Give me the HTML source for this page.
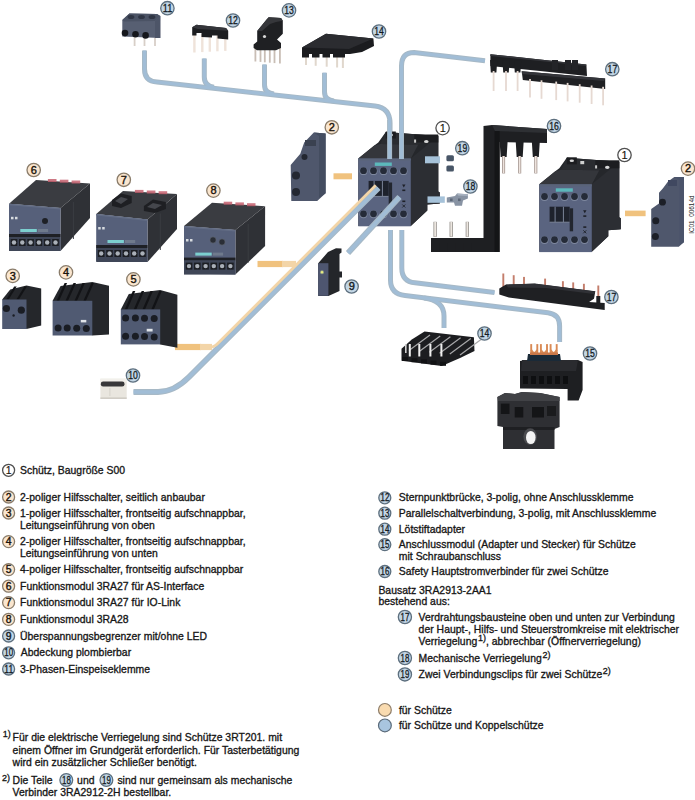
<!DOCTYPE html>
<html><head><meta charset="utf-8"><style>
html,body{margin:0;padding:0;background:#fff;}
body{width:695px;height:800px;overflow:hidden;position:relative;font-family:"Liberation Sans",sans-serif;}
svg{position:absolute;left:0;top:0;font-family:"Liberation Sans",sans-serif;}
</style></head><body>
<svg width="695" height="800" viewBox="0 0 695 800">
<path d="M144.5 50.5 V69 Q144.5 81.5 157 82 L375 106 Q390 108 390 123 V158" fill="none" stroke="#a7b9c6" stroke-width="5" stroke-linejoin="round"/><path d="M204.3 58.5 V77 Q204.3 86 214 87.2" fill="none" stroke="#a7b9c6" stroke-width="5" stroke-linejoin="round"/><path d="M264.5 64.5 V85 Q264.5 93 274 94" fill="none" stroke="#a7b9c6" stroke-width="5" stroke-linejoin="round"/><path d="M324.5 72.8 V92 Q324.5 100 334 101" fill="none" stroke="#a7b9c6" stroke-width="5" stroke-linejoin="round"/><path d="M144.5 50.5 V69 Q144.5 81.5 157 82 L375 106 Q390 108 390 123 V158" fill="none" stroke="#a1bdd6" stroke-width="3.10" stroke-linejoin="round"/><path d="M204.3 58.5 V77 Q204.3 86 214 87.2" fill="none" stroke="#a1bdd6" stroke-width="3.10" stroke-linejoin="round"/><path d="M264.5 64.5 V85 Q264.5 93 274 94" fill="none" stroke="#a1bdd6" stroke-width="3.10" stroke-linejoin="round"/><path d="M324.5 72.8 V92 Q324.5 100 334 101" fill="none" stroke="#a1bdd6" stroke-width="3.10" stroke-linejoin="round"/>
<path d="M401.5 158 V66 Q401.5 52.5 414 52.5 L485 60.8" fill="none" stroke="#a7b9c6" stroke-width="5" stroke-linejoin="round"/><path d="M401.5 158 V66 Q401.5 52.5 414 52.5 L485 60.8" fill="none" stroke="#a1bdd6" stroke-width="3.10" stroke-linejoin="round"/>
<path d="M390.5 230 V280 Q390.5 294 405 295.5 L548 312.8 Q559.6 314.3 559.6 326 V342" fill="none" stroke="#a7b9c6" stroke-width="5" stroke-linejoin="round"/><path d="M424 298 Q444 300.5 444 316 V328" fill="none" stroke="#a7b9c6" stroke-width="5" stroke-linejoin="round"/><path d="M390.5 230 V280 Q390.5 294 405 295.5 L548 312.8 Q559.6 314.3 559.6 326 V342" fill="none" stroke="#a1bdd6" stroke-width="3.10" stroke-linejoin="round"/><path d="M424 298 Q444 300.5 444 316 V328" fill="none" stroke="#a1bdd6" stroke-width="3.10" stroke-linejoin="round"/>
<path d="M401.8 230 V268 Q401.8 281.5 415 282.8 L494.5 292.5" fill="none" stroke="#a7b9c6" stroke-width="5" stroke-linejoin="round"/><path d="M401.8 230 V268 Q401.8 281.5 415 282.8 L494.5 292.5" fill="none" stroke="#a1bdd6" stroke-width="3.10" stroke-linejoin="round"/>
<path d="M175 347 H201" stroke="#f0c27e" stroke-width="6.2"/>
<path d="M200 347 H212" stroke="#f3d5a8" stroke-width="6.2"/>
<path d="M257.5 264 H283" stroke="#f0c27e" stroke-width="6.2"/>
<path d="M282 264 H296" stroke="#f3d5a8" stroke-width="6.2"/>
<rect x="333.5" y="173.3" width="18.5" height="6" fill="#f0c27e"/>
<rect x="625" y="210.6" width="20.6" height="5.6" fill="#f0c27e"/>
<rect x="133.7" y="36" width="1.8" height="10" fill="#d8cfc8"/>
<rect x="143.6" y="36" width="1.8" height="10" fill="#d8cfc8"/>
<rect x="154.1" y="36" width="1.8" height="10" fill="#d8cfc8"/>
<polygon points="122.3,20 129.4,13.6 157,14 160.3,16 160.3,38.1 122.3,36.5" fill="#575f72"/>
<polygon points="122.3,20 129.4,13.6 157,14 160.3,16 155,21 124,21.5" fill="#4b5365"/>
<polygon points="155,21 160.3,16 160.3,38.1 155,38" fill="#4d5568"/>
<ellipse cx="131" cy="17" rx="3.4" ry="2" fill="#2f3544"/>
<ellipse cx="141.5" cy="17" rx="3.4" ry="2" fill="#2f3544"/>
<ellipse cx="152" cy="17" rx="3.4" ry="2" fill="#2f3544"/>
<circle cx="125" cy="33.1" r="3.3" fill="#15171c"/>
<circle cx="135.5" cy="34.3" r="3.3" fill="#15171c"/>
<circle cx="145.6" cy="35.4" r="3.3" fill="#15171c"/>
<rect x="193.20000000000002" y="34" width="2.4" height="18.5" fill="#efe3da"/>
<rect x="201.10000000000002" y="34" width="2.4" height="18.1" fill="#efe3da"/>
<rect x="208.60000000000002" y="34" width="2.4" height="17.7" fill="#efe3da"/>
<rect x="216.20000000000002" y="34" width="2.4" height="17.3" fill="#efe3da"/>
<rect x="224.10000000000002" y="34" width="2.4" height="16.9" fill="#efe3da"/>
<polygon points="192.2,27.2 196.5,24.7 226,27.9 228.2,30.8 228.2,39.4 217.5,38.5 217.5,35.5 212,35.5 212,37.6 201.5,37 201.5,33 196.5,33 196.5,35.5 192.2,35.5" fill="#1c1d20"/>
<polygon points="192.2,27.2 196.5,24.7 226,27.9 228.2,30.8 198,29" fill="#34353a"/>
<rect x="254.5" y="48" width="1.8" height="13.5" fill="#c9beb5"/>
<rect x="259.6" y="48" width="1.8" height="13.9" fill="#c9beb5"/>
<rect x="263.90000000000003" y="48" width="1.8" height="14.3" fill="#c9beb5"/>
<rect x="268.90000000000003" y="48" width="1.8" height="14.7" fill="#c9beb5"/>
<rect x="273.6" y="48" width="1.8" height="15.1" fill="#c9beb5"/>
<rect x="279.0" y="48" width="1.8" height="15.5" fill="#c9beb5"/>
<polygon points="253.6,44.5 257.2,41.5 257.2,30.9 266.6,19.4 268.7,17.2 281,17.9 282.8,20.8 282.8,33.7 277,39.5 281,43 281,48 276,50.3 257,50.3 253.6,48" fill="#1f2023"/>
<polygon points="257.2,30.9 266.6,19.4 268.7,17.2 281,17.9 282.8,20.8 276,22 270,24 262,31" fill="#36373b"/>
<circle cx="264.5" cy="36.5" r="1.6" fill="#d8d8d8"/>
<rect x="305" y="54" width="2" height="11.0" fill="#e0d7cd"/>
<rect x="314.7" y="54" width="2" height="11.8" fill="#e0d7cd"/>
<rect x="325.7" y="54" width="2" height="12.7" fill="#e0d7cd"/>
<rect x="336.1" y="54" width="2" height="13.5" fill="#e0d7cd"/>
<rect x="341.9" y="54" width="2" height="14.0" fill="#e0d7cd"/>
<polygon points="302,47.5 326,33.8 373.4,38.6 374,46 362,52 350,54 302,54" fill="#1b1c1f"/>
<polygon points="302,47.5 326,33.8 373.4,38.6 349,49" fill="#2b2c30"/>
<rect x="302" y="53" width="7" height="4.5" fill="#1b1c1f"/>
<rect x="312" y="53" width="7.5" height="4.5" fill="#1b1c1f"/>
<rect x="322.5" y="53" width="7.5" height="4.5" fill="#1b1c1f"/>
<rect x="333" y="53" width="12" height="4.5" fill="#1b1c1f"/>
<polygon points="490.4,54.2 540,59.5 586.4,64.6 587,76 540,71 490.4,66" fill="#1e1f22"/>
<polygon points="490.4,54.2 540,59.5 586.4,64.6 586,66 540,61 490.4,56" fill="#34353a"/>
<polygon points="490.0,60 497.20000000000005,61 496.40000000000003,72.5 490.8,72.5" fill="#1e1f22"/>
<polygon points="502.4,60 509.6,61 508.8,72.5 503.2,72.5" fill="#1e1f22"/>
<polygon points="514.0,60 521.2,61 520.4,72.5 514.8000000000001,72.5" fill="#1e1f22"/>
<rect x="552" y="60" width="6" height="10" fill="#232428"/>
<rect x="565" y="60" width="6" height="10" fill="#232428"/>
<rect x="572" y="60" width="6" height="10" fill="#232428"/>
<polygon points="521.7,71.3 605.2,78.6 605.2,89 522.8,80" fill="#1f2023"/>
<polygon points="521.7,71.3 605.2,78.6 604,81 522,74" fill="#34353a"/>
<rect x="492.70000000000005" y="71" width="1.8" height="20" fill="#e6d9d2"/>
<rect x="505.1" y="71" width="1.8" height="20" fill="#e6d9d2"/>
<rect x="516.7" y="71" width="1.8" height="20" fill="#e6d9d2"/>
<rect x="529.1" y="79.0" width="1.8" height="18.5" fill="#e6d9d2"/>
<rect x="540.6" y="80.3" width="1.8" height="18.5" fill="#e6d9d2"/>
<rect x="555.3000000000001" y="81.6" width="1.8" height="18.5" fill="#e6d9d2"/>
<rect x="566.7" y="82.9" width="1.8" height="18.5" fill="#e6d9d2"/>
<rect x="578.8000000000001" y="84.2" width="1.8" height="18.5" fill="#e6d9d2"/>
<rect x="590.7" y="85.5" width="1.8" height="18.5" fill="#e6d9d2"/>
<rect x="602.2" y="86.8" width="1.8" height="18.5" fill="#e6d9d2"/>
<polygon points="290.7,165 300.3,153.8 304.2,142.5 313.8,132.4 325.6,133.5 325.6,193.2 317.2,201 291.3,201" fill="#4f576c"/>
<polygon points="313.8,132.4 325.6,133.5 325.6,193.2 319,198 319,136" fill="#444d60"/>
<circle cx="296" cy="175.5" r="4" fill="#232731"/><circle cx="296" cy="192" r="4" fill="#232731"/><circle cx="304.5" cy="157" r="3" fill="#232731"/>
<rect x="305" y="140" width="11" height="6" fill="#3a4150"/>
<g transform="translate(358.3,158.5)"><polygon points="0,0 16,-13 20,-16 27.5,-26.5 80,-22.5 80,33 81.5,34 81.5,45 69,46 69,52 52.5,67.5 0,67.5" fill="#25272b"/><polygon points="52.5,0 80,-22.5 80,33 81.5,34 81.5,45 69,46 69,52 52.5,67.5" fill="#2c2e33"/><polygon points="0,0 16,-13 22,-14.5 60,-14 52.5,0" fill="#34363b"/><polygon points="27.5,-26.5 80,-22.5 60,-14 22,-14.5" fill="#2a2c30"/><rect x="27.5" y="-27" width="10" height="7" fill="#1c1d20"/><rect x="56" y="-24" width="24" height="8" fill="#1c1d20"/><ellipse cx="32.5" cy="-23.5" rx="2.2" ry="1.2" fill="#d8d8d8"/><rect x="41" y="-23.3" width="3.9" height="3.2" fill="#d0d0d0"/><rect x="55.8" y="-19" width="2" height="3.2" fill="#c8c8c8"/><ellipse cx="68" cy="-17" rx="2.3" ry="1.6" fill="#d8d8d8"/><rect x="0" y="0" width="52.5" height="67.8" fill="#5a6480"/><rect x="0" y="0" width="52.5" height="2" fill="#5a6479"/><rect x="16.5" y="4" width="17" height="3.4" fill="#5cb8bb"/><circle cx="5.2" cy="12.7" r="3.9" fill="#7e889e"/><circle cx="5.2" cy="12.2" r="3.4" fill="#252b38"/><circle cx="5.2" cy="55.8" r="3.9" fill="#7e889e"/><circle cx="5.2" cy="55.3" r="3.4" fill="#252b38"/><circle cx="15.2" cy="12.7" r="3.9" fill="#7e889e"/><circle cx="15.2" cy="12.2" r="3.4" fill="#252b38"/><circle cx="15.2" cy="55.8" r="3.9" fill="#7e889e"/><circle cx="15.2" cy="55.3" r="3.4" fill="#252b38"/><circle cx="25.2" cy="12.7" r="3.9" fill="#7e889e"/><circle cx="25.2" cy="12.2" r="3.4" fill="#252b38"/><circle cx="25.2" cy="55.8" r="3.9" fill="#7e889e"/><circle cx="25.2" cy="55.3" r="3.4" fill="#252b38"/><circle cx="35.2" cy="12.7" r="3.9" fill="#7e889e"/><circle cx="35.2" cy="12.2" r="3.4" fill="#252b38"/><circle cx="35.2" cy="55.8" r="3.9" fill="#7e889e"/><circle cx="35.2" cy="55.3" r="3.4" fill="#252b38"/><circle cx="45.2" cy="12.7" r="3.9" fill="#7e889e"/><circle cx="45.2" cy="12.2" r="3.4" fill="#252b38"/><circle cx="45.2" cy="55.8" r="3.9" fill="#7e889e"/><circle cx="45.2" cy="55.3" r="3.4" fill="#252b38"/><rect x="10.3" y="22.4" width="20.1" height="15.5" fill="#1e222c"/><rect x="15.3" y="22.4" width="1" height="15.5" fill="#7a8498"/><rect x="23.6" y="22.4" width="1" height="15.5" fill="#7a8498"/><rect x="10.3" y="37.4" width="20.1" height="1" fill="#7a8498"/><rect x="30.4" y="24" width="3.4" height="23" fill="#22262f"/><polygon points="43.8,26 47.2,26 45.5,29" fill="#1e2129"/><rect x="44" y="31" width="3" height="1.6" fill="#1e2129"/><rect x="44" y="42" width="3" height="1.6" fill="#1e2129"/><path d="M44 46 l3 3 m-3 0 l3 -3" stroke="#1e2129" stroke-width="0.9"/></g>
<g transform="translate(539.3,184.3)"><polygon points="0,0 16,-13 20,-16 27.5,-26.5 80,-22.5 80,33 81.5,34 81.5,45 69,46 69,52 52.5,67.5 0,67.5" fill="#25272b"/><polygon points="52.5,0 80,-22.5 80,33 81.5,34 81.5,45 69,46 69,52 52.5,67.5" fill="#2c2e33"/><polygon points="0,0 16,-13 22,-14.5 60,-14 52.5,0" fill="#34363b"/><polygon points="27.5,-26.5 80,-22.5 60,-14 22,-14.5" fill="#2a2c30"/><rect x="27.5" y="-27" width="10" height="7" fill="#1c1d20"/><rect x="56" y="-24" width="24" height="8" fill="#1c1d20"/><ellipse cx="32.5" cy="-23.5" rx="2.2" ry="1.2" fill="#d8d8d8"/><rect x="41" y="-23.3" width="3.9" height="3.2" fill="#d0d0d0"/><rect x="55.8" y="-19" width="2" height="3.2" fill="#c8c8c8"/><ellipse cx="68" cy="-17" rx="2.3" ry="1.6" fill="#d8d8d8"/><rect x="0" y="0" width="52.5" height="67.8" fill="#5a6480"/><rect x="0" y="0" width="52.5" height="2" fill="#5a6479"/><rect x="16.5" y="4" width="17" height="3.4" fill="#5cb8bb"/><circle cx="5.2" cy="12.7" r="3.9" fill="#7e889e"/><circle cx="5.2" cy="12.2" r="3.4" fill="#252b38"/><circle cx="5.2" cy="55.8" r="3.9" fill="#7e889e"/><circle cx="5.2" cy="55.3" r="3.4" fill="#252b38"/><circle cx="15.2" cy="12.7" r="3.9" fill="#7e889e"/><circle cx="15.2" cy="12.2" r="3.4" fill="#252b38"/><circle cx="15.2" cy="55.8" r="3.9" fill="#7e889e"/><circle cx="15.2" cy="55.3" r="3.4" fill="#252b38"/><circle cx="25.2" cy="12.7" r="3.9" fill="#7e889e"/><circle cx="25.2" cy="12.2" r="3.4" fill="#252b38"/><circle cx="25.2" cy="55.8" r="3.9" fill="#7e889e"/><circle cx="25.2" cy="55.3" r="3.4" fill="#252b38"/><circle cx="35.2" cy="12.7" r="3.9" fill="#7e889e"/><circle cx="35.2" cy="12.2" r="3.4" fill="#252b38"/><circle cx="35.2" cy="55.8" r="3.9" fill="#7e889e"/><circle cx="35.2" cy="55.3" r="3.4" fill="#252b38"/><circle cx="45.2" cy="12.7" r="3.9" fill="#7e889e"/><circle cx="45.2" cy="12.2" r="3.4" fill="#252b38"/><circle cx="45.2" cy="55.8" r="3.9" fill="#7e889e"/><circle cx="45.2" cy="55.3" r="3.4" fill="#252b38"/><rect x="10.3" y="22.4" width="20.1" height="15.5" fill="#1e222c"/><rect x="15.3" y="22.4" width="1" height="15.5" fill="#7a8498"/><rect x="23.6" y="22.4" width="1" height="15.5" fill="#7a8498"/><rect x="10.3" y="37.4" width="20.1" height="1" fill="#7a8498"/><rect x="30.4" y="24" width="3.4" height="23" fill="#22262f"/><polygon points="43.8,26 47.2,26 45.5,29" fill="#1e2129"/><rect x="44" y="31" width="3" height="1.6" fill="#1e2129"/><rect x="44" y="42" width="3" height="1.6" fill="#1e2129"/><path d="M44 46 l3 3 m-3 0 l3 -3" stroke="#1e2129" stroke-width="0.9"/></g>
<path d="M389.6 120 V159" fill="none" stroke="#a7b9c6" stroke-width="5" stroke-linejoin="round"/><path d="M389.6 120 V159" fill="none" stroke="#a1bdd6" stroke-width="3.10" stroke-linejoin="round"/>
<path d="M401.5 120 V159" fill="none" stroke="#a7b9c6" stroke-width="5" stroke-linejoin="round"/><path d="M401.5 120 V159" fill="none" stroke="#a1bdd6" stroke-width="3.10" stroke-linejoin="round"/>
<rect x="425" y="156.3" width="15" height="7" fill="#a6c2d9"/>
<rect x="427.5" y="196.4" width="17.3" height="6.4" fill="#a6c2d9"/>
<rect x="446.4" y="155.3" width="7.5" height="6" rx="1.5" fill="#485667"/><rect x="446.4" y="165.4" width="7.5" height="6" rx="1.5" fill="#485667"/>
<polygon points="446.8,197.5 455,196 457,193.5 467.9,194.2 467.9,198.5 463,200.5 462,205.8 455,205.8 454,202.5 446.8,202.5" fill="#8893a3"/>
<polygon points="457,193.5 467.9,194.2 467.9,196 458,195.5" fill="#a8b2c0"/>
<rect x="450" y="198.5" width="2.6" height="2.6" fill="#5d6878"/><rect x="458" y="198.5" width="2.6" height="2.6" fill="#5d6878"/>
<polygon points="483.5,126 492,125 547,129 547,143 499.6,142 499.6,252 431,252 431,238 483.5,238" fill="#1e1f22"/>
<polygon points="492,125 547,129 547,133 495,131" fill="#2e3034"/>
<rect x="494.5" y="131" width="5.1" height="121" fill="#141517"/>
<polygon points="499.6,141 507.6,141 506.6,157 500.6,157" fill="#1e1f22"/>
<rect x="502.1" y="156" width="3" height="17.4" fill="#9a8a84"/>
<rect x="502.8" y="156" width="1.6" height="17" fill="#eee4de"/>
<polygon points="515.7,141 523.7,141 522.7,157 516.7,157" fill="#1e1f22"/>
<rect x="518.2" y="156" width="3" height="17.4" fill="#9a8a84"/>
<rect x="518.9000000000001" y="156" width="1.6" height="17" fill="#eee4de"/>
<polygon points="531.8,141 539.8,141 538.8,157 532.8,157" fill="#1e1f22"/>
<rect x="534.3" y="156" width="3" height="17.4" fill="#9a8a84"/>
<rect x="535.0" y="156" width="1.6" height="17" fill="#eee4de"/>
<rect x="433.5" y="221.8" width="3.2" height="15" fill="#8a8580"/>
<rect x="434.20000000000005" y="222" width="1.8" height="14.5" fill="#ece6e0"/>
<rect x="431.1" y="243" width="8" height="9" fill="#1e1f22"/>
<rect x="449.59999999999997" y="221.8" width="3.2" height="15" fill="#8a8580"/>
<rect x="450.3" y="222" width="1.8" height="14.5" fill="#ece6e0"/>
<rect x="447.2" y="243" width="8" height="9" fill="#1e1f22"/>
<rect x="465.7" y="221.8" width="3.2" height="15" fill="#8a8580"/>
<rect x="466.40000000000003" y="222" width="1.8" height="14.5" fill="#ece6e0"/>
<rect x="463.3" y="243" width="8" height="9" fill="#1e1f22"/>
<polygon points="651.2,209 659,203.4 659,192.7 663,188.2 668,181.4 674.3,176.9 683.9,176.9 683.9,242.2 678.8,246.7 651.2,246.7" fill="#4f576c"/>
<polygon points="674.3,176.9 683.9,176.9 683.9,242.2 679.5,245 679.5,180" fill="#4a536a"/>
<rect x="668" y="180" width="9" height="6" fill="#404860"/>
<circle cx="662.5" cy="202.2" r="3.4" fill="#1c1f27"/><circle cx="655.8" cy="220.8" r="3.5" fill="#1c1f27"/><circle cx="655.4" cy="236.6" r="3.5" fill="#1c1f27"/>
<polygon points="9,203.8 36,180 90,183.5 60.5,208" fill="#3a3c41"/><polygon points="60.5,208 90,183.5 90,218 60.5,251" fill="#2f3136"/><path d="M73.4 202.0 V239.0" stroke="#3a3d42" stroke-width="1"/><rect x="47.9" y="179.0" width="8.6" height="3" fill="#c4606e" opacity="0.85"/><rect x="59.8" y="179.7" width="8.6" height="3" fill="#c4606e" opacity="0.85"/><rect x="71.6" y="180.5" width="8.6" height="3" fill="#c4606e" opacity="0.85"/><polygon points="9,203.8 60.5,208 60.5,251 9,250" fill="#56607a"/><polygon points="9,203.8 60.5,208 60.5,209.5 9,205.3" fill="#626c84"/><rect x="20.3" y="229" width="16.5" height="3" fill="#7ccfcf"/><rect x="37.8" y="229" width="10.3" height="3" fill="#6f7a8c"/><rect x="9" y="234" width="51.5" height="3" fill="#1e2025"/><rect x="9" y="237" width="51.5" height="14" fill="#3f4657"/><rect x="11" y="216.8" width="2.5" height="2.5" fill="#d8dce0"/><rect x="15" y="216.8" width="2.5" height="2.5" fill="#d8dce0"/><rect x="10.7" y="239" width="6.6" height="7" fill="#1c1e23"/><circle cx="14.0" cy="242.5" r="2.2" fill="#aab0b8"/><rect x="19.0" y="239" width="6.6" height="7" fill="#1c1e23"/><circle cx="22.3" cy="242.5" r="2.2" fill="#aab0b8"/><rect x="27.3" y="239" width="6.6" height="7" fill="#1c1e23"/><circle cx="30.6" cy="242.5" r="2.2" fill="#aab0b8"/><rect x="35.6" y="239" width="6.6" height="7" fill="#1c1e23"/><circle cx="38.9" cy="242.5" r="2.2" fill="#aab0b8"/><rect x="43.9" y="239" width="6.6" height="7" fill="#1c1e23"/><circle cx="47.2" cy="242.5" r="2.2" fill="#aab0b8"/><rect x="52.2" y="239" width="6.6" height="7" fill="#1c1e23"/><circle cx="55.5" cy="242.5" r="2.2" fill="#aab0b8"/>
<polygon points="96.2,214 123,191 177,194 147.5,219.5" fill="#3a3c41"/><polygon points="147.5,219.5 177,194 177,229 147.5,262" fill="#2f3136"/><path d="M160.3 213.5 V250.0" stroke="#3a3d42" stroke-width="1"/><rect x="134.9" y="189.9" width="8.6" height="3" fill="#c4606e" opacity="0.85"/><rect x="146.8" y="190.5" width="8.6" height="3" fill="#c4606e" opacity="0.85"/><rect x="158.6" y="191.2" width="8.6" height="3" fill="#c4606e" opacity="0.85"/><polygon points="96.2,214 147.5,219.5 147.5,262 96.2,261" fill="#56607a"/><polygon points="96.2,214 147.5,219.5 147.5,221.0 96.2,215.5" fill="#626c84"/><rect x="107.5" y="240" width="16.4" height="3" fill="#7ccfcf"/><rect x="124.9" y="240" width="10.3" height="3" fill="#6f7a8c"/><rect x="96.2" y="245" width="51.3" height="3" fill="#1e2025"/><rect x="96.2" y="248" width="51.3" height="14" fill="#3f4657"/><rect x="98.2" y="227" width="2.5" height="2.5" fill="#d8dce0"/><rect x="102.2" y="227" width="2.5" height="2.5" fill="#d8dce0"/><rect x="97.9" y="250" width="6.6" height="7" fill="#1c1e23"/><circle cx="101.2" cy="253.5" r="2.2" fill="#aab0b8"/><rect x="106.2" y="250" width="6.6" height="7" fill="#1c1e23"/><circle cx="109.5" cy="253.5" r="2.2" fill="#aab0b8"/><rect x="114.4" y="250" width="6.6" height="7" fill="#1c1e23"/><circle cx="117.7" cy="253.5" r="2.2" fill="#aab0b8"/><rect x="122.7" y="250" width="6.6" height="7" fill="#1c1e23"/><circle cx="126.0" cy="253.5" r="2.2" fill="#aab0b8"/><rect x="130.9" y="250" width="6.6" height="7" fill="#1c1e23"/><circle cx="134.2" cy="253.5" r="2.2" fill="#aab0b8"/><rect x="139.2" y="250" width="6.6" height="7" fill="#1c1e23"/><circle cx="142.5" cy="253.5" r="2.2" fill="#aab0b8"/>
<polygon points="184,226 212,202.7 265.1,206.2 235.4,230" fill="#3a3c41"/><polygon points="235.4,230 265.1,206.2 265.1,246 235.4,274.6" fill="#2f3136"/><path d="M248.2 224.0 V262.6" stroke="#3a3d42" stroke-width="1"/><rect x="223.7" y="201.7" width="8.5" height="3" fill="#c4606e" opacity="0.85"/><rect x="235.4" y="202.4" width="8.5" height="3" fill="#c4606e" opacity="0.85"/><rect x="247.0" y="203.2" width="8.5" height="3" fill="#c4606e" opacity="0.85"/><polygon points="184,226 235.4,230 235.4,274.6 184,273.6" fill="#56607a"/><polygon points="184,226 235.4,230 235.4,231.5 184,227.5" fill="#626c84"/><rect x="195.3" y="252.60000000000002" width="16.4" height="3" fill="#7ccfcf"/><rect x="212.8" y="252.60000000000002" width="10.3" height="3" fill="#6f7a8c"/><rect x="184" y="257.6" width="51.400000000000006" height="3" fill="#1e2025"/><rect x="184" y="260.6" width="51.400000000000006" height="14" fill="#3f4657"/><rect x="186" y="239" width="2.5" height="2.5" fill="#d8dce0"/><rect x="190" y="239" width="2.5" height="2.5" fill="#d8dce0"/><rect x="185.7" y="262.6" width="6.6" height="7" fill="#1c1e23"/><circle cx="189.0" cy="266.1" r="2.2" fill="#aab0b8"/><rect x="194.0" y="262.6" width="6.6" height="7" fill="#1c1e23"/><circle cx="197.3" cy="266.1" r="2.2" fill="#aab0b8"/><rect x="202.3" y="262.6" width="6.6" height="7" fill="#1c1e23"/><circle cx="205.6" cy="266.1" r="2.2" fill="#aab0b8"/><rect x="210.5" y="262.6" width="6.6" height="7" fill="#1c1e23"/><circle cx="213.8" cy="266.1" r="2.2" fill="#aab0b8"/><rect x="218.8" y="262.6" width="6.6" height="7" fill="#1c1e23"/><circle cx="222.1" cy="266.1" r="2.2" fill="#aab0b8"/><rect x="227.1" y="262.6" width="6.6" height="7" fill="#1c1e23"/><circle cx="230.4" cy="266.1" r="2.2" fill="#aab0b8"/>
<polygon points="112,200 121,193.4 131.7,196 131.7,203 121,208 112,206" fill="#1e1f23"/><polygon points="115,201 121,197 128,199 121,204" fill="#45474d"/>
<polygon points="143.9,206 153,199.6 165.9,202 165.9,209 155,213 143.9,211" fill="#1e1f23"/><polygon points="147,207 153,203 162,205 155,209" fill="#45474d"/>
<circle cx="45" cy="221" r="3" fill="#1e2026"/>
<circle cx="213" cy="240" r="3.2" fill="#2a2e36" stroke="#6a7080" stroke-width="0.6"/><circle cx="222" cy="242" r="3.2" fill="#2a2e36" stroke="#6a7080" stroke-width="0.6"/>
<polygon points="2.2,299.5 10.2,289.5 26.5,285.5 41.2,288.6 41.2,325.4 26.5,329.0" fill="#25272b"/><polygon points="6.2,299.5 14.2,286.5 16.7,286.5 8.7,299.5" fill="#121316"/><polygon points="16.4,299.5 24.4,286.5 26.9,286.5 18.9,299.5" fill="#121316"/><rect x="2.2" y="299.5" width="24.3" height="29.5" fill="#505a72"/><circle cx="6.4" cy="308.5" r="3.6" fill="#1a1d24"/><circle cx="21.3" cy="310.2" r="3.6" fill="#1a1d24"/><circle cx="13.6" cy="315.5" r="1.2" fill="#1a1d24"/>
<polygon points="52.6,300.8 60.6,286 92.30000000000001,282 109,285.7 109,334.5 92.30000000000001,335.5" fill="#25272b"/><polygon points="56.6,300.8 64.6,283 67.1,283 59.1,300.8" fill="#121316"/><polygon points="65.5,300.8 73.5,283 76.0,283 68.0,300.8" fill="#121316"/><polygon points="74.5,300.8 82.5,283 85.0,283 77.0,300.8" fill="#121316"/><polygon points="83.4,300.8 91.4,283 93.9,283 85.9,300.8" fill="#121316"/><rect x="52.6" y="300.8" width="39.7" height="34.7" fill="#505a72"/><circle cx="58.1" cy="328" r="3.5" fill="#1a1d24"/><circle cx="67.2" cy="328" r="3.5" fill="#1a1d24"/><circle cx="76.7" cy="328.3" r="3.5" fill="#1a1d24"/><circle cx="86.3" cy="328.5" r="3.5" fill="#1a1d24"/>
<polygon points="120.8,309.4 128.8,294 160.2,290 177.4,294.8 177.4,347.7 160.2,344.4" fill="#25272b"/><polygon points="124.8,309.4 132.8,291 135.3,291 127.3,309.4" fill="#121316"/><polygon points="133.7,309.4 141.7,291 144.2,291 136.2,309.4" fill="#121316"/><polygon points="142.5,309.4 150.5,291 153.0,291 145.0,309.4" fill="#121316"/><polygon points="151.3,309.4 159.3,291 161.8,291 153.8,309.4" fill="#121316"/><rect x="120.8" y="309.4" width="39.4" height="35" fill="#505a72"/><circle cx="125.6" cy="318" r="3.5" fill="#1a1d24"/><circle cx="135.4" cy="318" r="3.5" fill="#1a1d24"/><circle cx="144.5" cy="318.3" r="3.5" fill="#1a1d24"/><circle cx="154.2" cy="318.6" r="3.5" fill="#1a1d24"/><circle cx="125.6" cy="336.3" r="3.5" fill="#1a1d24"/><circle cx="135.4" cy="336.3" r="3.5" fill="#1a1d24"/><circle cx="144.5" cy="336.6" r="3.5" fill="#1a1d24"/><circle cx="154.2" cy="336.9" r="3.5" fill="#1a1d24"/>
<rect x="80.8" y="319.9" width="5.5" height="2.5" fill="#e0e4e8"/><rect x="146.7" y="328.8" width="5.9" height="2.7" fill="#e0e4e8"/>
<polygon points="318.2,263.2 328,252 336,248.2 341.5,248.5 341.5,252.5 339.5,254 339.5,291 328.4,296 318.2,296" fill="#24262a"/>
<rect x="339" y="271.5" width="3" height="6" fill="#24262a"/>
<rect x="318.2" y="263.2" width="10.2" height="32.6" fill="#4e5670"/>
<circle cx="322" cy="272.2" r="2" fill="#c8d890" opacity="0.6"/><circle cx="322" cy="272.2" r="1.1" fill="#eef080"/>
<rect x="100.4" y="378.7" width="26.3" height="20.1" fill="#e9e6df"/>
<rect x="100.4" y="378.7" width="26.3" height="3" fill="#f2f0eb"/>
<rect x="100.8" y="381.5" width="23.7" height="5.1" rx="2.3" fill="#38383a"/>
<rect x="100.4" y="397.5" width="26.3" height="1.3" fill="#c9c5bd"/>
<rect x="109.5" y="388" width="0.8" height="8" fill="#d2cec6"/>
<polygon points="401.5,348.7 411.8,339.5 424.5,331.5 473.9,337.2 474.5,351 460.1,357.9 441.7,366 401.5,360.8" fill="#1c1d20"/>
<path d="M409.0 350.5 L430.0 335.0" stroke="#a8a8aa" stroke-width="1.2"/>
<path d="M419.2 351.4 L440.2 335.9" stroke="#a8a8aa" stroke-width="1.2"/>
<path d="M429.4 352.3 L450.4 336.8" stroke="#a8a8aa" stroke-width="1.2"/>
<path d="M439.6 353.2 L460.6 337.7" stroke="#a8a8aa" stroke-width="1.2"/>
<path d="M449.8 354.1 L470.8 338.6" stroke="#a8a8aa" stroke-width="1.2"/>
<path d="M460.0 355.0 L481.0 339.5" stroke="#a8a8aa" stroke-width="1.2"/>
<rect x="408.8" y="344" width="2" height="12.5" fill="#f0f0f0"/>
<rect x="418.3" y="344" width="2" height="12.5" fill="#f0f0f0"/>
<rect x="429.4" y="344" width="2" height="12.5" fill="#f0f0f0"/>
<rect x="440.4" y="344" width="2" height="12.5" fill="#f0f0f0"/>
<rect x="402.0" y="357.0" width="6" height="4" fill="#111214"/>
<rect x="411.5" y="358.2" width="6" height="4" fill="#111214"/>
<rect x="421.0" y="359.4" width="6" height="4" fill="#111214"/>
<rect x="430.5" y="360.6" width="6" height="4" fill="#111214"/>
<rect x="440.0" y="361.8" width="6" height="4" fill="#111214"/>
<rect x="405" y="344" width="1.6" height="9" fill="#d0d0d0"/>
<rect x="502.35" y="273.5" width="1.9" height="16" fill="#c47e6c"/>
<rect x="512.75" y="275.2" width="1.9" height="16" fill="#c47e6c"/>
<rect x="523.05" y="276.9" width="1.9" height="16" fill="#c47e6c"/>
<rect x="544.15" y="278.6" width="1.9" height="16" fill="#c47e6c"/>
<rect x="561.9499999999999" y="281.2" width="1.9" height="16" fill="#c47e6c"/>
<rect x="572.25" y="282.4" width="1.9" height="16" fill="#c47e6c"/>
<rect x="582.9499999999999" y="283.8" width="1.9" height="16" fill="#c47e6c"/>
<rect x="597.3499999999999" y="285.5" width="1.9" height="16" fill="#c47e6c"/>
<polygon points="499.3,288.5 506,284.5 534.7,283.8 546.8,285.2 595.3,291.3 594,298.7 589.1,302 604.7,302.9 604.7,310 570,305.5 530,300.3 508.8,297.5 499.3,294.5" fill="#1f2023"/>
<polygon points="506,284.7 534.7,283.5 546.8,285 595.3,291.6 594,294 546,288 508,287.5" fill="#303136"/>
<rect x="596.3" y="296" width="4" height="7" fill="#1f2023"/>
<polygon points="520,361 526,360 578,360 582.6,362 582.6,390 578.6,400.4 567.6,400.4 567.6,389 520,388.6" fill="#1e1f22"/>
<polygon points="522,360 578,360 576,371 521,371" fill="#2a2b2f"/>
<rect x="523" y="376" width="5" height="8" fill="#0e0f11"/>
<rect x="531" y="376" width="5" height="8" fill="#0e0f11"/>
<rect x="539" y="376" width="5" height="8" fill="#0e0f11"/>
<rect x="547" y="376" width="5" height="8" fill="#0e0f11"/>
<rect x="555" y="376" width="5" height="8" fill="#0e0f11"/>
<rect x="563" y="376" width="5" height="8" fill="#0e0f11"/>
<polygon points="528,354 560,354 561,361 527,361" fill="#1a2a38"/>
<rect x="530.25" y="344.1" width="1.9" height="9" fill="#d98a55"/>
<rect x="536.3499999999999" y="344.1" width="1.9" height="9" fill="#d98a55"/>
<rect x="539.9499999999999" y="344.1" width="1.9" height="9" fill="#d98a55"/>
<rect x="546.05" y="344.1" width="1.9" height="9" fill="#d98a55"/>
<rect x="549.65" y="344.1" width="1.9" height="9" fill="#d98a55"/>
<rect x="555.75" y="344.1" width="1.9" height="9" fill="#d98a55"/>
<path d="M531.2 350 Q534.25 356 537.3 350" stroke="#d98a55" stroke-width="2" fill="none"/>
<path d="M540.9 350 Q543.95 356 547 350" stroke="#d98a55" stroke-width="2" fill="none"/>
<path d="M550.6 350 Q553.6500000000001 356 556.7 350" stroke="#d98a55" stroke-width="2" fill="none"/>
<rect x="530" y="352.5" width="28" height="2.5" fill="#c8784a"/>
<polygon points="497.4,397 505,393 515,394 522,392 540,393 559.6,397 559.6,427 554.5,429 554.5,449 503,449 503,427 497.4,426" fill="#2e2f33"/>
<polygon points="497.4,397 505,393 515,394 522,392 540,393 559.6,397 559.6,401 498,401" fill="#414246"/>
<rect x="500.8" y="403.6" width="8.7" height="10.4" fill="#141517"/><rect x="514.7" y="407" width="8.6" height="10.5" fill="#141517"/><rect x="532" y="407" width="12" height="10.5" fill="#141517"/><rect x="547" y="406" width="9" height="10" fill="#1a1b1d"/>
<rect x="503" y="427" width="51.5" height="3" fill="#1e1f22"/>
<ellipse cx="530.2" cy="436.6" rx="6.8" ry="8.4" fill="#4a4b4f"/><ellipse cx="530.8" cy="437.5" rx="4.8" ry="6.6" fill="#f4f4f4"/>
<path d="M378.5 188 L189 377 Q174 392 158 392 L133.5 392" fill="none" stroke="#a7b9c6" stroke-width="5.8" stroke-linejoin="round"/><path d="M378.5 188 L189 377 Q174 392 158 392 L133.5 392" fill="none" stroke="#a1bdd6" stroke-width="3.60" stroke-linejoin="round"/>
<path d="M375.8 185.3 L218 343.2 Q214 347.5 208 347.5" fill="none" stroke="#f3d5a8" stroke-width="2.8" stroke-linejoin="round"/>
<path d="M399.5 197 L348 253" fill="none" stroke="#a7b9c6" stroke-width="5.8" stroke-linejoin="round"/><path d="M399.5 197 L348 253" fill="none" stroke="#a1bdd6" stroke-width="3.60" stroke-linejoin="round"/>
<text x="0" y="0" font-size="7.8" textLength="38.3" lengthAdjust="spacingAndGlyphs" fill="#2a2a2a" transform="translate(693.6,233.8) rotate(-90)">IC01_00614d</text>
<circle cx="167.4" cy="8.2" r="6.7" fill="#c3d6e5" stroke="#5d6f7e" stroke-width="1.3"/><text x="167.5" y="11.9" font-size="10.8" text-anchor="middle" textLength="9.6" lengthAdjust="spacingAndGlyphs" fill="#141a22" stroke="#141a22" stroke-width="0.3">11</text>
<circle cx="233.0" cy="20.5" r="6.7" fill="#c3d6e5" stroke="#5d6f7e" stroke-width="1.3"/><text x="233.1" y="24.2" font-size="10.8" text-anchor="middle" textLength="9.6" lengthAdjust="spacingAndGlyphs" fill="#141a22" stroke="#141a22" stroke-width="0.3">12</text>
<circle cx="289.0" cy="10.4" r="6.7" fill="#c3d6e5" stroke="#5d6f7e" stroke-width="1.3"/><text x="289.1" y="14.1" font-size="10.8" text-anchor="middle" textLength="9.6" lengthAdjust="spacingAndGlyphs" fill="#141a22" stroke="#141a22" stroke-width="0.3">13</text>
<circle cx="379.0" cy="31.5" r="6.7" fill="#c3d6e5" stroke="#5d6f7e" stroke-width="1.3"/><text x="379.1" y="35.2" font-size="10.8" text-anchor="middle" textLength="9.6" lengthAdjust="spacingAndGlyphs" fill="#141a22" stroke="#141a22" stroke-width="0.3">14</text>
<circle cx="612.3" cy="69.2" r="6.7" fill="#c3d6e5" stroke="#5d6f7e" stroke-width="1.3"/><text x="612.4" y="72.9" font-size="10.8" text-anchor="middle" textLength="9.6" lengthAdjust="spacingAndGlyphs" fill="#141a22" stroke="#141a22" stroke-width="0.3">17</text>
<circle cx="331.8" cy="127.3" r="6.7" fill="#fae6cf" stroke="#8a7c6a" stroke-width="1.3"/><text x="331.9" y="131.2" font-size="11.0" text-anchor="middle" fill="#1a140c" stroke="#1a140c" stroke-width="0.4">2</text>
<circle cx="442.6" cy="128.1" r="6.7" fill="#ffffff" stroke="#505050" stroke-width="1.3"/><text x="442.7" y="131.9" font-size="11.0" text-anchor="middle" fill="#1a140c" stroke="#1a140c" stroke-width="0.15">1</text>
<circle cx="462.3" cy="148.2" r="6.7" fill="#c3d6e5" stroke="#5d6f7e" stroke-width="1.3"/><text x="462.4" y="151.9" font-size="10.8" text-anchor="middle" textLength="9.6" lengthAdjust="spacingAndGlyphs" fill="#141a22" stroke="#141a22" stroke-width="0.3">19</text>
<circle cx="470.4" cy="186.5" r="6.7" fill="#c3d6e5" stroke="#5d6f7e" stroke-width="1.3"/><text x="470.5" y="190.2" font-size="10.8" text-anchor="middle" textLength="9.6" lengthAdjust="spacingAndGlyphs" fill="#141a22" stroke="#141a22" stroke-width="0.3">18</text>
<circle cx="554.0" cy="126.0" r="6.7" fill="#c3d6e5" stroke="#5d6f7e" stroke-width="1.3"/><text x="554.1" y="129.7" font-size="10.8" text-anchor="middle" textLength="9.6" lengthAdjust="spacingAndGlyphs" fill="#141a22" stroke="#141a22" stroke-width="0.3">16</text>
<circle cx="624.5" cy="155.0" r="6.7" fill="#ffffff" stroke="#505050" stroke-width="1.3"/><text x="624.6" y="158.8" font-size="11.0" text-anchor="middle" fill="#1a140c" stroke="#1a140c" stroke-width="0.15">1</text>
<circle cx="688.0" cy="168.6" r="6.7" fill="#fae6cf" stroke="#8a7c6a" stroke-width="1.3"/><text x="688.1" y="172.4" font-size="11.0" text-anchor="middle" fill="#1a140c" stroke="#1a140c" stroke-width="0.4">2</text>
<circle cx="33.7" cy="170.0" r="6.7" fill="#fae6cf" stroke="#8a7c6a" stroke-width="1.3"/><text x="33.8" y="173.8" font-size="11.0" text-anchor="middle" fill="#1a140c" stroke="#1a140c" stroke-width="0.4">6</text>
<circle cx="123.8" cy="179.8" r="6.7" fill="#fae6cf" stroke="#8a7c6a" stroke-width="1.3"/><text x="123.9" y="183.7" font-size="11.0" text-anchor="middle" fill="#1a140c" stroke="#1a140c" stroke-width="0.4">7</text>
<circle cx="213.4" cy="190.6" r="6.7" fill="#fae6cf" stroke="#8a7c6a" stroke-width="1.3"/><text x="213.5" y="194.4" font-size="11.0" text-anchor="middle" fill="#1a140c" stroke="#1a140c" stroke-width="0.4">8</text>
<circle cx="12.7" cy="275.9" r="6.7" fill="#fae6cf" stroke="#8a7c6a" stroke-width="1.3"/><text x="12.8" y="279.8" font-size="11.0" text-anchor="middle" fill="#1a140c" stroke="#1a140c" stroke-width="0.4">3</text>
<circle cx="66.0" cy="272.4" r="6.7" fill="#fae6cf" stroke="#8a7c6a" stroke-width="1.3"/><text x="66.1" y="276.2" font-size="11.0" text-anchor="middle" fill="#1a140c" stroke="#1a140c" stroke-width="0.4">4</text>
<circle cx="133.4" cy="279.4" r="6.7" fill="#fae6cf" stroke="#8a7c6a" stroke-width="1.3"/><text x="133.5" y="283.2" font-size="11.0" text-anchor="middle" fill="#1a140c" stroke="#1a140c" stroke-width="0.4">5</text>
<circle cx="351.6" cy="286.5" r="6.7" fill="#c3d6e5" stroke="#5d6f7e" stroke-width="1.3"/><text x="351.7" y="290.4" font-size="11.0" text-anchor="middle" fill="#141a22" stroke="#141a22" stroke-width="0.4">9</text>
<circle cx="133.0" cy="375.5" r="6.7" fill="#c3d6e5" stroke="#5d6f7e" stroke-width="1.3"/><text x="133.1" y="379.2" font-size="10.8" text-anchor="middle" textLength="9.6" lengthAdjust="spacingAndGlyphs" fill="#141a22" stroke="#141a22" stroke-width="0.3">10</text>
<circle cx="611.4" cy="297.0" r="6.7" fill="#c3d6e5" stroke="#5d6f7e" stroke-width="1.3"/><text x="611.5" y="300.7" font-size="10.8" text-anchor="middle" textLength="9.6" lengthAdjust="spacingAndGlyphs" fill="#141a22" stroke="#141a22" stroke-width="0.3">17</text>
<circle cx="484.5" cy="333.5" r="6.7" fill="#c3d6e5" stroke="#5d6f7e" stroke-width="1.3"/><text x="484.6" y="337.2" font-size="10.8" text-anchor="middle" textLength="9.6" lengthAdjust="spacingAndGlyphs" fill="#141a22" stroke="#141a22" stroke-width="0.3">14</text>
<circle cx="590.0" cy="353.5" r="6.7" fill="#c3d6e5" stroke="#5d6f7e" stroke-width="1.3"/><text x="590.1" y="357.2" font-size="10.8" text-anchor="middle" textLength="9.6" lengthAdjust="spacingAndGlyphs" fill="#141a22" stroke="#141a22" stroke-width="0.3">15</text>
<circle cx="8.6" cy="470.3" r="6.0" fill="#ffffff" stroke="#505050" stroke-width="1.3"/><text x="8.7" y="473.9" font-size="10.4" text-anchor="middle" fill="#1a140c" stroke="#1a140c" stroke-width="0.15">1</text>
<text x="20" y="473.8" font-size="10.4" letter-spacing="0.03" fill="#161616" stroke="#161616" stroke-width="0.32" >Schütz, Baugröße S00</text>
<circle cx="8.6" cy="497.0" r="6.0" fill="#fae6cf" stroke="#8a7c6a" stroke-width="1.3"/><text x="8.7" y="500.6" font-size="10.4" text-anchor="middle" fill="#1a140c" stroke="#1a140c" stroke-width="0.4">2</text>
<text x="20" y="500.5" font-size="10.4" letter-spacing="0.03" fill="#161616" stroke="#161616" stroke-width="0.32" >2-poliger Hilfsschalter, seitlich anbaubar</text>
<circle cx="8.6" cy="513.0" r="6.0" fill="#fae6cf" stroke="#8a7c6a" stroke-width="1.3"/><text x="8.7" y="516.6" font-size="10.4" text-anchor="middle" fill="#1a140c" stroke="#1a140c" stroke-width="0.4">3</text>
<text x="20" y="516.5" font-size="10.4" letter-spacing="0.03" fill="#161616" stroke="#161616" stroke-width="0.32" >1-poliger Hilfsschalter, frontseitig aufschnappbar,</text>
<text x="20" y="528.6" font-size="10.4" letter-spacing="0.03" fill="#161616" stroke="#161616" stroke-width="0.32" >Leitungseinführung von oben</text>
<circle cx="8.6" cy="541.6" r="6.0" fill="#fae6cf" stroke="#8a7c6a" stroke-width="1.3"/><text x="8.7" y="545.2" font-size="10.4" text-anchor="middle" fill="#1a140c" stroke="#1a140c" stroke-width="0.4">4</text>
<text x="20" y="545.1" font-size="10.4" letter-spacing="0.03" fill="#161616" stroke="#161616" stroke-width="0.32" >2-poliger Hilfsschalter, frontseitig aufschnappbar,</text>
<text x="20" y="557.2" font-size="10.4" letter-spacing="0.03" fill="#161616" stroke="#161616" stroke-width="0.32" >Leitungseinführung von unten</text>
<circle cx="8.6" cy="569.6" r="6.0" fill="#fae6cf" stroke="#8a7c6a" stroke-width="1.3"/><text x="8.7" y="573.2" font-size="10.4" text-anchor="middle" fill="#1a140c" stroke="#1a140c" stroke-width="0.4">5</text>
<text x="20" y="573.1" font-size="10.4" letter-spacing="0.03" fill="#161616" stroke="#161616" stroke-width="0.32" >4-poliger Hilfsschalter, frontseitig aufschnappbar</text>
<circle cx="8.6" cy="586.2" r="6.0" fill="#fae6cf" stroke="#8a7c6a" stroke-width="1.3"/><text x="8.7" y="589.8" font-size="10.4" text-anchor="middle" fill="#1a140c" stroke="#1a140c" stroke-width="0.4">6</text>
<text x="20" y="589.7" font-size="10.4" letter-spacing="0.03" fill="#161616" stroke="#161616" stroke-width="0.32" >Funktionsmodul 3RA27 für AS-Interface</text>
<circle cx="8.6" cy="602.6" r="6.0" fill="#fae6cf" stroke="#8a7c6a" stroke-width="1.3"/><text x="8.7" y="606.2" font-size="10.4" text-anchor="middle" fill="#1a140c" stroke="#1a140c" stroke-width="0.4">7</text>
<text x="20" y="606.1" font-size="10.4" letter-spacing="0.03" fill="#161616" stroke="#161616" stroke-width="0.32" >Funktionsmodul 3RA27 für IO-Link</text>
<circle cx="8.6" cy="619.4" r="6.0" fill="#fae6cf" stroke="#8a7c6a" stroke-width="1.3"/><text x="8.7" y="623.0" font-size="10.4" text-anchor="middle" fill="#1a140c" stroke="#1a140c" stroke-width="0.4">8</text>
<text x="20" y="622.9" font-size="10.4" letter-spacing="0.03" fill="#161616" stroke="#161616" stroke-width="0.32" >Funktionsmodul 3RA28</text>
<circle cx="8.6" cy="636.0" r="6.0" fill="#c3d6e5" stroke="#5d6f7e" stroke-width="1.3"/><text x="8.7" y="639.6" font-size="10.4" text-anchor="middle" fill="#141a22" stroke="#141a22" stroke-width="0.4">9</text>
<text x="20" y="639.5" font-size="10.4" letter-spacing="0.03" fill="#161616" stroke="#161616" stroke-width="0.32" >Überspannungsbegrenzer mit/ohne LED</text>
<circle cx="8.6" cy="652.8" r="6.0" fill="#c3d6e5" stroke="#5d6f7e" stroke-width="1.3"/><text x="8.7" y="656.3" font-size="10.2" text-anchor="middle" textLength="8.8" lengthAdjust="spacingAndGlyphs" fill="#141a22" stroke="#141a22" stroke-width="0.3">10</text>
<text x="20.8" y="656.3" font-size="10.4" letter-spacing="0.03" fill="#161616" stroke="#161616" stroke-width="0.32" >Abdeckung plombierbar</text>
<circle cx="8.6" cy="669.0" r="6.0" fill="#c3d6e5" stroke="#5d6f7e" stroke-width="1.3"/><text x="8.7" y="672.5" font-size="10.2" text-anchor="middle" textLength="8.8" lengthAdjust="spacingAndGlyphs" fill="#141a22" stroke="#141a22" stroke-width="0.3">11</text>
<text x="20" y="672.5" font-size="10.4" letter-spacing="0.03" fill="#161616" stroke="#161616" stroke-width="0.32" >3-Phasen-Einspeiseklemme</text>
<circle cx="384.8" cy="497.8" r="6.0" fill="#c3d6e5" stroke="#5d6f7e" stroke-width="1.3"/><text x="384.9" y="501.3" font-size="10.2" text-anchor="middle" textLength="8.8" lengthAdjust="spacingAndGlyphs" fill="#141a22" stroke="#141a22" stroke-width="0.3">12</text>
<text x="398.8" y="501.3" font-size="10.4" letter-spacing="0.03" fill="#161616" stroke="#161616" stroke-width="0.32" >Sternpunktbrücke, 3-polig, ohne Anschlussklemme</text>
<circle cx="384.8" cy="513.2" r="6.0" fill="#c3d6e5" stroke="#5d6f7e" stroke-width="1.3"/><text x="384.9" y="516.7" font-size="10.2" text-anchor="middle" textLength="8.8" lengthAdjust="spacingAndGlyphs" fill="#141a22" stroke="#141a22" stroke-width="0.3">13</text>
<text x="398.8" y="516.7" font-size="10.4" letter-spacing="0.03" fill="#161616" stroke="#161616" stroke-width="0.32" >Parallelschaltverbindung, 3-polig, mit Anschlussklemme</text>
<circle cx="384.8" cy="529.2" r="6.0" fill="#c3d6e5" stroke="#5d6f7e" stroke-width="1.3"/><text x="384.9" y="532.7" font-size="10.2" text-anchor="middle" textLength="8.8" lengthAdjust="spacingAndGlyphs" fill="#141a22" stroke="#141a22" stroke-width="0.3">14</text>
<text x="398.8" y="532.7" font-size="10.4" letter-spacing="0.03" fill="#161616" stroke="#161616" stroke-width="0.32" >Lötstiftadapter</text>
<circle cx="384.8" cy="544.6" r="6.0" fill="#c3d6e5" stroke="#5d6f7e" stroke-width="1.3"/><text x="384.9" y="548.1" font-size="10.2" text-anchor="middle" textLength="8.8" lengthAdjust="spacingAndGlyphs" fill="#141a22" stroke="#141a22" stroke-width="0.3">15</text>
<text x="398.8" y="548.1" font-size="10.4" letter-spacing="0.03" fill="#161616" stroke="#161616" stroke-width="0.32" >Anschlussmodul (Adapter und Stecker) für Schütze</text>
<text x="398.8" y="560.2" font-size="10.4" letter-spacing="0.03" fill="#161616" stroke="#161616" stroke-width="0.32" >mit Schraubanschluss</text>
<circle cx="384.8" cy="571.5" r="6.0" fill="#c3d6e5" stroke="#5d6f7e" stroke-width="1.3"/><text x="384.9" y="575.0" font-size="10.2" text-anchor="middle" textLength="8.8" lengthAdjust="spacingAndGlyphs" fill="#141a22" stroke="#141a22" stroke-width="0.3">16</text>
<text x="398.8" y="575.0" font-size="10.4" letter-spacing="0.03" fill="#161616" stroke="#161616" stroke-width="0.32" >Safety Hauptstromverbinder für zwei Schütze</text>
<text x="378.4" y="593.8" font-size="10.4" letter-spacing="0.03" fill="#161616" stroke="#161616" stroke-width="0.32" >Bausatz 3RA2913-2AA1</text>
<text x="378.4" y="605.3" font-size="10.4" letter-spacing="0.03" fill="#161616" stroke="#161616" stroke-width="0.32" >bestehend aus:</text>
<circle cx="404.9" cy="617.0" r="6.6" fill="#c3d6e5" stroke="#5d6f7e" stroke-width="1.3"/><text x="405.0" y="620.7" font-size="10.6" text-anchor="middle" textLength="8.8" lengthAdjust="spacingAndGlyphs" fill="#141a22" stroke="#141a22" stroke-width="0.3">17</text>
<text x="418.6" y="620.7" font-size="10.4" letter-spacing="0.03" fill="#161616" stroke="#161616" stroke-width="0.32" >Verdrahtungsbausteine oben und unten zur Verbindung</text>
<text x="418.6" y="632.8" font-size="10.4" letter-spacing="0.03" fill="#161616" stroke="#161616" stroke-width="0.32" >der Haupt-, Hilfs- und Steuerstromkreise mit elektrischer</text>
<text x="418.6" y="645.3" font-size="10.4" letter-spacing="0.03" fill="#161616" stroke="#161616" stroke-width="0.32" >Verriegelung<tspan font-size="9" dx="0.6" dy="-3.9">1)</tspan><tspan dy="3.9">, abbrechbar (Öffnerverriegelung)</tspan></text>
<circle cx="404.9" cy="658.0" r="6.6" fill="#c3d6e5" stroke="#5d6f7e" stroke-width="1.3"/><text x="405.0" y="661.7" font-size="10.6" text-anchor="middle" textLength="8.8" lengthAdjust="spacingAndGlyphs" fill="#141a22" stroke="#141a22" stroke-width="0.3">18</text>
<text x="418.6" y="662.0" font-size="10.4" letter-spacing="0.03" fill="#161616" stroke="#161616" stroke-width="0.32" >Mechanische Verriegelung<tspan font-size="9" dx="0.6" dy="-3.9">2)</tspan></text>
<circle cx="404.9" cy="674.4" r="6.6" fill="#c3d6e5" stroke="#5d6f7e" stroke-width="1.3"/><text x="405.0" y="678.1" font-size="10.6" text-anchor="middle" textLength="8.8" lengthAdjust="spacingAndGlyphs" fill="#141a22" stroke="#141a22" stroke-width="0.3">19</text>
<text x="418.6" y="678.1" font-size="10.4" letter-spacing="0.03" fill="#161616" stroke="#161616" stroke-width="0.32" >Zwei Verbindungsclips für zwei Schütze<tspan font-size="9" dx="0.6" dy="-3.9">2)</tspan></text>
<circle cx="384.9" cy="709.9" r="6.4" fill="#f9dbb0" stroke="#8f7e6a" stroke-width="1.2"/>
<text x="398.9" y="713.7" font-size="10.4" letter-spacing="0.03" fill="#161616" stroke="#161616" stroke-width="0.32" >für Schütze</text>
<circle cx="384.9" cy="725.4" r="6.4" fill="#a8c5df" stroke="#5b6b7a" stroke-width="1.2"/>
<text x="398.9" y="729.2" font-size="10.4" letter-spacing="0.03" fill="#161616" stroke="#161616" stroke-width="0.32" >für Schütze und Koppelschütze</text>
<text x="2.8" y="737.1" font-size="9" letter-spacing="0.03" fill="#161616" stroke="#161616" stroke-width="0.32" >1)</text>
<text x="12.6" y="741.1" font-size="10.4" letter-spacing="0.03" fill="#161616" stroke="#161616" stroke-width="0.32" >Für die elektrische Verriegelung sind Schütze 3RT201. mit</text>
<text x="12.6" y="753.5" font-size="10.4" letter-spacing="0.03" fill="#161616" stroke="#161616" stroke-width="0.32" >einem Öffner im Grundgerät erforderlich. Für Tasterbetätigung</text>
<text x="12.6" y="765.7" font-size="10.4" letter-spacing="0.03" fill="#161616" stroke="#161616" stroke-width="0.32" >wird ein zusätzlicher Schließer benötigt.</text>
<text x="2.0" y="780.5" font-size="9" letter-spacing="0.03" fill="#161616" stroke="#161616" stroke-width="0.32" >2)</text>
<text x="12.6" y="783.9" font-size="10.4" letter-spacing="0.03" fill="#161616" stroke="#161616" stroke-width="0.32" >Die Teile</text>
<circle cx="66.3" cy="780.0" r="6.4" fill="#c3d6e5" stroke="#5d6f7e" stroke-width="1.3"/><text x="66.4" y="783.7" font-size="10.6" text-anchor="middle" textLength="8.8" lengthAdjust="spacingAndGlyphs" fill="#141a22" stroke="#141a22" stroke-width="0.3">18</text>
<text x="77.1" y="783.9" font-size="10.4" letter-spacing="0.03" fill="#161616" stroke="#161616" stroke-width="0.32" >und</text>
<circle cx="106.4" cy="780.0" r="6.4" fill="#c3d6e5" stroke="#5d6f7e" stroke-width="1.3"/><text x="106.5" y="783.7" font-size="10.6" text-anchor="middle" textLength="8.8" lengthAdjust="spacingAndGlyphs" fill="#141a22" stroke="#141a22" stroke-width="0.3">19</text>
<text x="117.4" y="783.9" font-size="10.4" letter-spacing="0.03" fill="#161616" stroke="#161616" stroke-width="0.32" >sind nur gemeinsam als mechanische</text>
<text x="12.6" y="795.9" font-size="10.4" letter-spacing="0.03" fill="#161616" stroke="#161616" stroke-width="0.32" >Verbinder 3RA2912-2H bestellbar.</text>
</svg>
</body></html>
